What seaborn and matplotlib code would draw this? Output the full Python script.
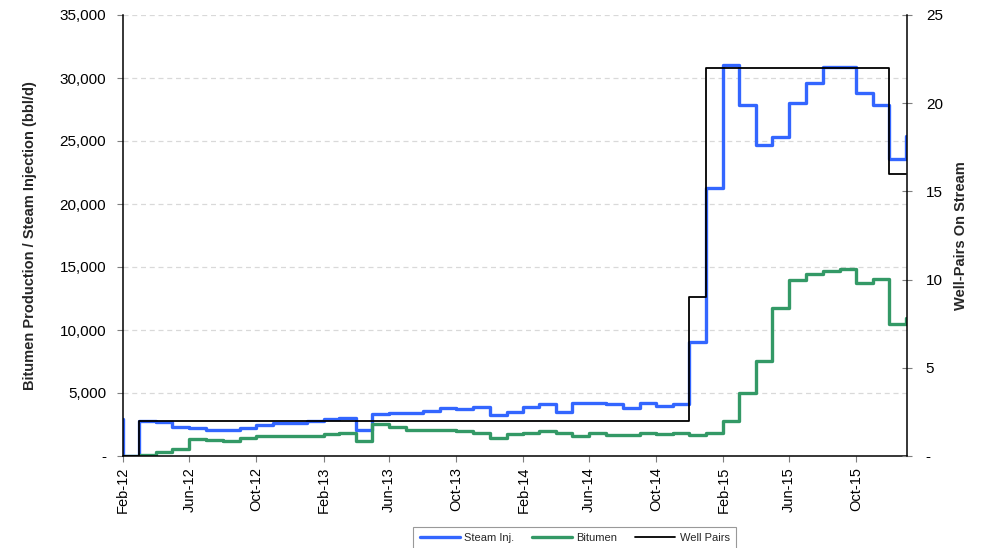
import numpy as np
import pandas as pd
import matplotlib
matplotlib.use("Agg")
import matplotlib.pyplot as plt
import matplotlib.dates as mdates
from matplotlib.ticker import FuncFormatter, MultipleLocator
from matplotlib.lines import Line2D
import seaborn as sns

# ---- data (monthly, Jan-2012 .. Jan-2016) ----
months = pd.date_range("2012-01-01", "2016-01-01", freq="MS")

steam_inj = [2950, 0, 2800, 2700, 2300, 2200, 2050, 2050, 2250, 2450, 2600, 2650,
             2800, 2950, 3000, 2100, 3350, 3400, 3420, 3600, 3780, 3700, 3900, 3250,
             3520, 3860, 4100, 3520, 4230, 4180, 4100, 3780, 4180, 3970, 4130, 9070,
             21250, 31030, 27860, 24690, 25300, 27990, 29580, 30900, 30850, 28790, 27860, 23550,
             25400]

bitumen = [0, 0, 80, 340, 560, 1350, 1270, 1190, 1400, 1550, 1550, 1600,
           1620, 1720, 1800, 1220, 2540, 2330, 2100, 2050, 2050, 2000, 1850, 1400,
           1750, 1850, 1980, 1800, 1610, 1800, 1670, 1670, 1800, 1720, 1820, 1670,
           1850, 2800, 5030, 7570, 11720, 13970, 14450, 14680, 14820, 13700, 14020, 10480,
           10930]

well_pairs = [0, 0, 2, 2, 2, 2, 2, 2, 2, 2, 2, 2,
              2, 2, 2, 2, 2, 2, 2, 2, 2, 2, 2, 2,
              2, 2, 2, 2, 2, 2, 2, 2, 2, 2, 2, 9,
              22, 22, 22, 22, 22, 22, 22, 22, 22, 22, 22, 16,
              16]

series_names = ["Steam Inj.", "Bitumen", "Well Pairs"]
left_label = "Bitumen Production / Steam Injection (bbl/d)"
right_label = "Well-Pairs On Stream"

BLUE = "#3366FF"
GREEN = "#339966"
BLACK = "#000000"

df = pd.DataFrame({"Month": months, "Steam Inj.": steam_inj,
                   "Bitumen": bitumen, "Well Pairs": well_pairs})

sns.set_style("ticks")
plt.rcParams['font.family'] = ['Liberation Sans', 'DejaVu Sans']

fig = plt.figure(figsize=(9.84, 5.48), dpi=100)
ax = fig.add_axes([123/984, (548-456)/548, (907-123)/984, (456-15)/548])

sns.lineplot(data=df, x="Month", y="Steam Inj.", ax=ax, color=BLUE, lw=2.4,
             drawstyle="steps-post", legend=False)
sns.lineplot(data=df, x="Month", y="Bitumen", ax=ax, color=GREEN, lw=2.4,
             drawstyle="steps-post", legend=False)

ax2 = ax.twinx()
sns.lineplot(data=df, x="Month", y="Well Pairs", ax=ax2, color=BLACK, lw=1.3,
             drawstyle="steps-post", legend=False)

ax.set_xlim(pd.Timestamp("2012-02-01"), pd.Timestamp("2016-01-02"))
ax.set_ylim(0, 35000)
ax2.set_ylim(0, 25)

ax.yaxis.set_major_locator(MultipleLocator(5000))
ax2.yaxis.set_major_locator(MultipleLocator(5))
ax.yaxis.set_major_formatter(FuncFormatter(lambda v, p: "-" if v == 0 else f"{int(v):,}"))
ax2.yaxis.set_major_formatter(FuncFormatter(lambda v, p: "-" if v == 0 else f"{int(v)}"))

ax.xaxis.set_major_locator(mdates.MonthLocator(bymonth=[2, 6, 10]))
ax.xaxis.set_major_formatter(mdates.DateFormatter("%b-%y"))

ax.grid(False)
ax.yaxis.grid(True, linestyle=(0, (4, 3)), color="#d9d9d9", lw=0.9)
ax.set_axisbelow(True)

for s in ["top", "right"]:
    ax.spines[s].set_visible(False)
for s in ["top", "left", "bottom"]:
    ax2.spines[s].set_visible(False)
for s in ["left", "bottom"]:
    ax.spines[s].set_color("black")
    ax.spines[s].set_linewidth(1.1)
ax2.spines["right"].set_color("black")
ax2.spines["right"].set_linewidth(1.1)

ax.tick_params(axis="y", direction="out", length=4, width=0.8, color="#7f7f7f",
               labelsize=11, pad=8, labelcolor="black")
ax.tick_params(axis="x", direction="out", length=4, width=0.8, color="#7f7f7f",
               labelsize=10.5, pad=4, labelrotation=90, labelcolor="black")
ax2.tick_params(axis="y", direction="inout", length=7, width=0.8, color="#7f7f7f",
                labelsize=11, pad=10, labelcolor="black")

ax.set_xlabel("")
ax.set_ylabel(left_label, fontsize=10.5, fontweight="bold", labelpad=16)
ax2.set_ylabel(right_label, fontsize=10.5, fontweight="bold", labelpad=8)

handles = [Line2D([], [], color=BLUE, lw=2.4),
           Line2D([], [], color=GREEN, lw=2.4),
           Line2D([], [], color=BLACK, lw=1.3)]
leg = fig.legend(handles, series_names, loc="upper center", ncol=3,
                 bbox_to_anchor=(0.584, 0.049), fontsize=8, frameon=True,
                 fancybox=False, edgecolor="#808080", handlelength=3.6,
                 columnspacing=1.6, borderpad=0.6, handletextpad=0.4)
leg.get_frame().set_linewidth(0.8)

fig.savefig("out.png", dpi=100)
